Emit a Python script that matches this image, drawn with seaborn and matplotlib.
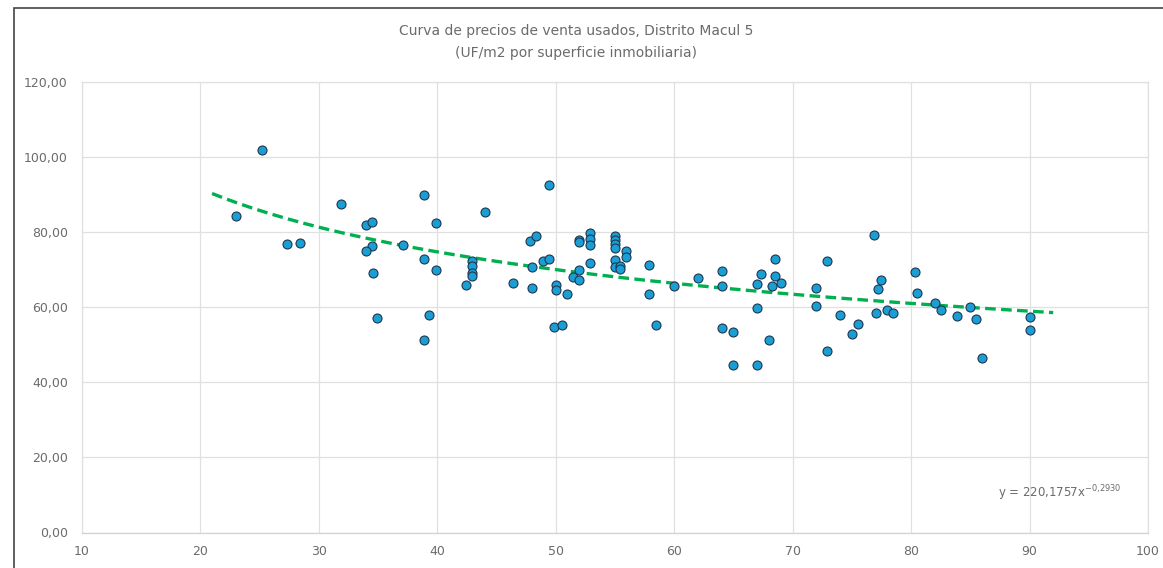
import matplotlib
matplotlib.use("Agg")
import matplotlib.pyplot as plt
import seaborn as sns
import numpy as np
import pandas as pd
from matplotlib.patches import Rectangle
from matplotlib.transforms import IdentityTransform

# ---- data ----
superficie = [25.2, 23.0, 27.3, 28.4, 31.9, 34.0, 34.5, 34.5, 34.0, 34.6, 37.1, 34.9,
              38.9, 38.9, 39.3, 38.9, 44.0, 39.9, 39.9, 42.9, 42.9, 42.9, 42.9, 42.4,
              46.4, 47.8, 48.3, 48.0, 48.0, 48.9, 49.4, 49.4, 50.0, 50.0, 49.9, 50.5,
              51.0, 51.5, 52.0, 52.0, 52.0, 52.0, 52.9, 52.9, 52.9, 52.9, 55.0, 55.0,
              55.0, 55.0, 55.0, 55.0, 55.4, 55.4, 55.9, 55.9, 57.9, 57.9, 58.5, 60.0,
              62.0, 64.0, 64.0, 64.0, 65.0, 65.0, 67.0, 67.0, 67.0, 67.3, 68.0, 68.3,
              68.5, 68.5, 69.0, 72.0, 72.0, 72.9, 72.9, 74.0, 75.0, 75.5, 76.9, 77.0,
              77.2, 77.5, 78.0, 78.5, 80.3, 80.5, 82.0, 82.5, 83.9, 85.0, 85.5, 86.0,
              90.0, 90.0]
precio_uf_m2 = [101.8, 84.2, 76.8, 77.1, 87.5, 81.9, 82.7, 76.2, 74.9, 69.0, 76.4, 57.1,
                89.8, 72.9, 58.0, 51.2, 85.2, 82.3, 70.0, 72.4, 70.9, 69.0, 68.4, 65.8,
                66.4, 77.7, 78.8, 70.8, 65.2, 72.2, 72.9, 92.6, 65.9, 64.5, 54.8, 55.1,
                63.5, 68.1, 70.0, 77.9, 77.4, 67.1, 79.7, 78.1, 76.4, 71.7, 78.8, 77.9,
                76.8, 75.7, 72.6, 70.6, 71.0, 70.1, 74.8, 73.3, 71.3, 63.5, 55.1, 65.7,
                67.8, 69.7, 65.5, 54.5, 53.5, 44.5, 66.2, 59.7, 44.5, 68.8, 51.2, 65.7,
                72.9, 68.4, 66.4, 65.1, 60.2, 72.3, 48.3, 58.0, 52.9, 55.4, 79.1, 58.3,
                64.7, 67.1, 59.3, 58.3, 69.4, 63.8, 61.0, 59.2, 57.7, 59.9, 56.7, 46.4,
                57.3, 54.0]

# trendline (power) as printed on the chart
trend_a = 220.1757
trend_b = -0.2930
trend_range = [21, 92]

x_ticks = [10, 20, 30, 40, 50, 60, 70, 80, 90, 100]
x_tick_labels = ["10", "20", "30", "40", "50", "60", "70", "80", "90", "100"]
y_ticks = [0, 20, 40, 60, 80, 100, 120]
y_tick_labels = ["0,00", "20,00", "40,00", "60,00", "80,00", "100,00", "120,00"]

title = "Curva de precios de venta usados, Distrito Macul 5\n(UF/m2 por superficie inmobiliaria)"
equation = r"y = 220,1757x$^{-0{,}2930}$"

df = pd.DataFrame({"superficie": superficie, "precio": precio_uf_m2})
xt = np.linspace(trend_range[0], trend_range[1], 200)
df_trend = pd.DataFrame({"x": xt, "y": trend_a * xt ** trend_b})

# ---- plot ----
sns.set_theme(style="white")
plt.rcParams["font.family"] = ["DejaVu Sans"]
text_col = "#6b6b6b"
grid_col = "#e0e0e0"

fig = plt.figure(figsize=(11.63, 5.68), dpi=100)
ax = fig.add_axes([0.0703, 0.0625, 0.9168, 0.7937])

sns.lineplot(data=df_trend, x="x", y="y", ax=ax, color="#00b050", linewidth=2.4,
             dashes=False, zorder=2)
ax.lines[-1].set_dashes((3.2, 1.6))
sns.scatterplot(data=df, x="superficie", y="precio", ax=ax, color="#1a9fd4",
                edgecolor="#1f3550", linewidth=0.8, s=42, zorder=3)

ax.set_xlim(10, 100)
ax.set_ylim(0, 120)
ax.set_xticks(x_ticks)
ax.set_xticklabels(x_tick_labels)
ax.set_yticks(y_ticks)
ax.set_yticklabels(y_tick_labels)
ax.tick_params(axis="both", length=0, labelsize=9, labelcolor=text_col)
ax.tick_params(axis="y", pad=10)
ax.tick_params(axis="x", pad=9)
ax.set_xlabel("")
ax.set_ylabel("")
ax.grid(True, color=grid_col, linewidth=0.9)
ax.set_axisbelow(True)
for side, sp in ax.spines.items():
    sp.set_color(grid_col)
    sp.set_linewidth(0.9)
ax.spines["bottom"].set_color("#d2d2d2")

fig.text(0.4955, 1 - 42 / 568, title, ha="center", va="center", fontsize=10,
         color=text_col, linespacing=1.65)
fig.text(998 / 1163, 1 - 493 / 568, equation, fontsize=8.5, color=text_col,
         ha="left", va="center")

fig.patches.append(Rectangle((14 / 1163, -0.05), 1.1, 1 - 8 / 568 + 0.05,
                             transform=fig.transFigure, fill=False,
                             edgecolor="#444444", linewidth=1.2, zorder=10))

fig.savefig("out.png", dpi=100, facecolor="white")
